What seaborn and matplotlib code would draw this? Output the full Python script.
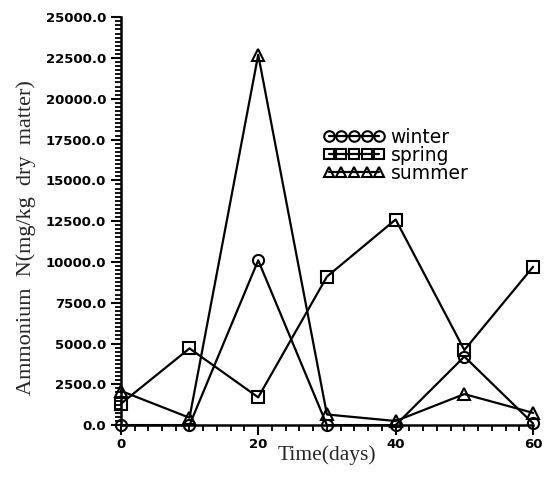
import matplotlib
matplotlib.use("Agg")
import matplotlib.pyplot as plt
import seaborn as sns
import numpy as np
from matplotlib.ticker import MultipleLocator, FormatStrFormatter

days = [0, 10, 20, 30, 40, 50, 60]
winter = [0, 0, 10100, 0, 0, 4200, 100]
spring = [1300, 4700, 1700, 9100, 12600, 4600, 9700]
summer = [2100, 450, 22700, 650, 250, 1900, 750]
series_names = ["winter", "spring", "summer"]
x_ticks = [0, 20, 40, 60]
y_ticks = [0, 2500, 5000, 7500, 10000, 12500, 15000, 17500, 20000, 22500, 25000]

sns.set_theme(style="ticks")
plt.rcParams['font.family'] = ['DejaVu Sans']

fig = plt.figure(figsize=(5.49, 4.92), dpi=100)
ax = fig.add_axes([0.220, 0.136, 0.751, 0.829])

markers = ["o", "s", "^"]
for name, vals, m in zip(series_names, [winter, spring, summer], markers):
    sns.lineplot(x=days, y=vals, ax=ax, color="black", linewidth=1.6,
                 marker=m, markersize=8, markerfacecolor="none",
                 markeredgecolor="black", markeredgewidth=1.5,
                 label=name, clip_on=False, zorder=3)

ax.set_xlim(0, 60)
ax.set_ylim(0, 25000)
ax.set_xticks(x_ticks)
ax.set_yticks(y_ticks)
ax.xaxis.set_minor_locator(MultipleLocator(2))
ax.yaxis.set_minor_locator(MultipleLocator(250))
ax.yaxis.set_major_formatter(FormatStrFormatter("%.1f"))
ax.xaxis.set_major_formatter(FormatStrFormatter("%d"))
ax.tick_params(axis="both", which="major", length=7, width=1.5, direction="out",
               labelsize=9.5, color="black", labelcolor="black")
ax.tick_params(axis="both", which="minor", length=4, width=1.3, direction="out",
               color="black")
for lab in ax.get_xticklabels() + ax.get_yticklabels():
    lab.set_fontweight("bold")
ax.tick_params(axis="x", pad=2)

sns.despine(ax=ax)
for sp in ["left", "bottom"]:
    ax.spines[sp].set_linewidth(1.8)
    ax.spines[sp].set_color("black")

ax.set_xlabel("Time(days)", family=["Liberation Serif"], fontsize=15.5, labelpad=-4)
ax.set_ylabel("Ammonium  N(mg/kg  dry  matter)", family=["Liberation Serif"],
              fontsize=16)
ax.yaxis.set_label_coords(-0.205, 0.46)

leg = ax.legend(loc="upper left", bbox_to_anchor=(0.45, 0.77), frameon=False,
                numpoints=5, handlelength=3.3, handletextpad=0.3,
                labelspacing=-0.05, fontsize=13.5, markerscale=0.95)
for t in leg.get_texts():
    t.set_color("black")

fig.savefig("out.png", dpi=100)
